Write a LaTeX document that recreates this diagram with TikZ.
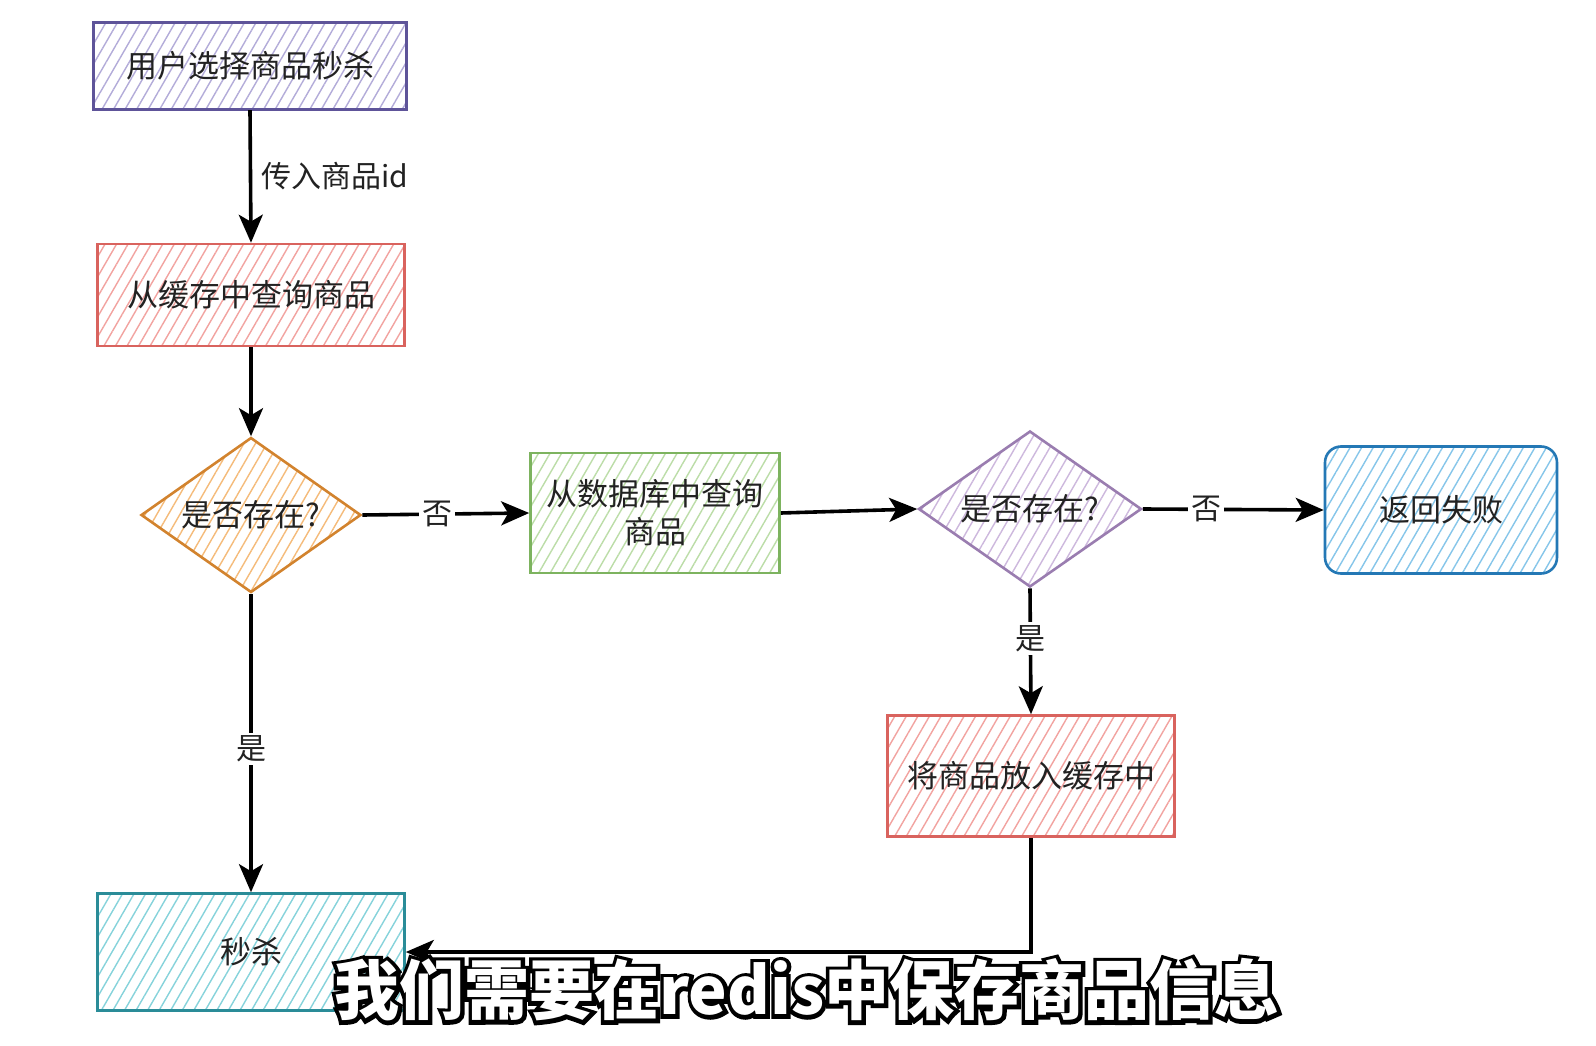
\documentclass[tikz,border=0pt]{standalone}
\usepackage{fontspec}
\setmainfont{Noto Sans CJK SC}
\newfontfamily\subfont{Noto Sans CJK SC}
\newfontfamily\subfontfb[FakeBold=12]{Noto Sans CJK SC}
\usetikzlibrary{arrows.meta,patterns.meta,shapes.geometric}
\definecolor{purpS}{HTML}{5E5499}\definecolor{purpF}{HTML}{B3ACD9}
\definecolor{redS}{HTML}{D9635E}\definecolor{redF}{HTML}{F2A3A0}
\definecolor{oraS}{HTML}{D2832E}\definecolor{oraF}{HTML}{F5BB7A}
\definecolor{grnS}{HTML}{7DB35F}\definecolor{grnF}{HTML}{BCDDA8}
\definecolor{vioS}{HTML}{9A7DB0}\definecolor{vioF}{HTML}{CDB8DD}
\definecolor{bluS}{HTML}{2478B5}\definecolor{bluF}{HTML}{86C6EA}
\definecolor{tealS}{HTML}{2A8C98}\definecolor{tealF}{HTML}{86D3DB}
\definecolor{txt}{HTML}{222222}
\newcommand\outlinedtext[1]{\hbox{\rlap{\color{black}\subfontfb\bfseries #1}{\color{white}\subfont\bfseries #1}}}
\tikzset{
  hbox/.style 2 args={rectangle, draw=#1, line width=2.6pt,
    pattern={Lines[angle=60,distance=10pt,line width=1.4pt]}, pattern color=#2,
    text=txt, font=\fontsize{31}{38}\selectfont, align=center, inner sep=0pt},
  hdia/.style 2 args={diamond, draw=#1, line width=2.6pt,
    pattern={Lines[angle=60,distance=10pt,line width=1.4pt]}, pattern color=#2,
    text=txt, font=\fontsize{31}{38}\selectfont, inner sep=0pt},
  conn/.style={line width=3.6pt, -{Stealth[length=28pt,width=24pt,inset=7pt]}},
  lab/.style={fill=white, text=txt, font=\fontsize{30}{36}\selectfont, inner sep=3pt}
}
\begin{document}
\begin{tikzpicture}[x=1pt,y=-1pt]
\useasboundingbox[fill=white] (0,0) rectangle (1596,1046);
\node[hbox={purpS}{purpF}, minimum width=313pt, minimum height=87pt] (b1) at (250,66) {用户选择商品秒杀};
\node[hbox={redS}{redF}, minimum width=307pt, minimum height=102pt] (b2) at (251,295) {从缓存中查询商品};
\node[hdia={oraS}{oraF}, minimum width=220pt, minimum height=155pt] (d1) at (251,515) {\makebox[0pt]{是否存在?}};
\node[hbox={grnS}{grnF}, minimum width=249pt, minimum height=120pt] (b3) at (655,513) {从数据库中查询\\商品};
\node[hdia={vioS}{vioF}, minimum width=223pt, minimum height=156pt] (d2) at (1030,509) {\makebox[0pt]{是否存在?}};
\node[hbox={bluS}{bluF}, rounded corners=16pt, minimum width=232pt, minimum height=127pt] (b4) at (1441,510) {返回失败};
\node[hbox={redS}{redF}, minimum width=287pt, minimum height=121pt] (b5) at (1031,776) {将商品放入缓存中};
\node[hbox={tealS}{tealF}, minimum width=307pt, minimum height=117pt] (b6) at (251,952) {秒杀};

\draw[conn] (b1.south) -- node[lab, right, xshift=6pt, fill=none] {传入商品id} (b2.north);
\draw[conn] (b2.south) -- (d1.north);
\draw[conn] (d1.east) -- node[lab, pos=0.45] {否} (b3.west);
\draw[conn] (b3.east) -- (d2.west);
\draw[conn] (d2.east) -- node[lab, pos=0.35] {否} (b4.west);
\draw[conn] (d2.south) -- node[lab, pos=0.4] {是} (b5.north);
\draw[conn] (d1.south) -- node[lab, pos=0.52] {是} (b6.north);
\draw[conn] (b5.south) |- (b6.east);

\node[font=\fontsize{65}{72}\selectfont, inner sep=0pt] (sub) at (807,990) {\outlinedtext{我们需要在redis中保存商品信息}};
\end{tikzpicture}
\end{document}
